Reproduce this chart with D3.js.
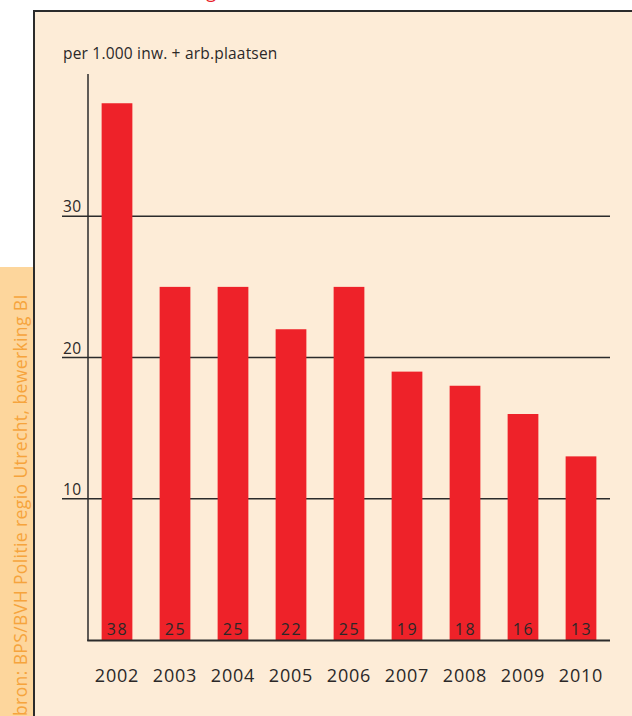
<!DOCTYPE html>
<html>
<head>
<meta charset="utf-8">
<script src="https://cdn.jsdelivr.net/npm/d3@7"></script>
<style>
  html, body { margin: 0; padding: 0; background: #fff; }
  svg { display: block; font-family: "Open Sans", "Noto Sans", sans-serif; }
</style>
</head>
<body>
<svg id="chart" width="632" height="716"></svg>
<script>
const years = ["2002", "2003", "2004", "2005", "2006", "2007", "2008", "2009", "2010"];
const values = [38, 25, 25, 22, 25, 19, 18, 16, 13];
const yTicks = [10, 20, 30];
const unitLabel = "per 1.000 inw. + arb.plaatsen";
const sourceLabel = "bron: BPS/BVH Politie regio Utrecht, bewerking BI";

const colors = {
    panel: "#fdecd7",
    border: "#2b2b2b",
    strip: "#fdd69c",
    source: "#f6a43c",
    bar: "#ee2229",
    ink: "#2b2828"
};

const svg = d3.select("#chart");

// sidebar strip with the source line
svg.append("rect")
    .attr("x", 0).attr("y", 267)
    .attr("width", 33).attr("height", 460)
    .attr("fill", colors.strip);

svg.append("text")
    .attr("transform", "translate(26.5, 716) rotate(-90)")
    .attr("fill", colors.source)
    .attr("font-size", 17.5)
    .attr("letter-spacing", 0.4)
    .text(sourceLabel);

// title above the panel, only the descender shows
svg.append("text")
    .attr("x", 216).attr("y", -2)
    .attr("text-anchor", "end")
    .attr("fill", "#e8202a")
    .attr("font-size", 18)
    .text("Ontwikkeling");

// panel
svg.append("rect")
    .attr("x", 34).attr("y", 11)
    .attr("width", 620).attr("height", 720)
    .attr("fill", colors.panel)
    .attr("stroke", colors.border)
    .attr("stroke-width", 2);

const scaleX = d3.scaleBand()
    .domain(years)
    .range([88, 610])
    .paddingInner(0.47)
    .paddingOuter(0.235);

const scaleY = d3.scaleLinear()
    .domain([0, 40])
    .range([640, 75]);

svg.append("text")
    .attr("x", 63).attr("y", 59)
    .attr("fill", colors.ink)
    .attr("font-size", 15.5)
    .attr("letter-spacing", 0.2)
    .text(unitLabel);

// gridlines with labels sitting on top of them
const grid = svg.append("g").attr("class", "grid");
grid.selectAll("line")
    .data(yTicks)
    .join("line")
    .attr("x1", 62).attr("x2", 610)
    .attr("y1", d => scaleY(d)).attr("y2", d => scaleY(d))
    .attr("stroke", colors.border)
    .attr("stroke-width", 1.3);

grid.selectAll("text")
    .data(yTicks)
    .join("text")
    .attr("x", 63)
    .attr("y", d => scaleY(d) - 4)
    .attr("fill", colors.ink)
    .attr("font-size", 15.5)
    .attr("letter-spacing", 0.5)
    .text(d => d);

// bars
svg.append("g").selectAll("rect")
    .data(values)
    .join("rect")
    .attr("x", (d, i) => scaleX(years[i]))
    .attr("y", d => scaleY(d))
    .attr("width", scaleX.bandwidth())
    .attr("height", d => scaleY(0) - scaleY(d))
    .attr("fill", colors.bar);

// values inside the bar foot
svg.append("g").selectAll("text")
    .data(values)
    .join("text")
    .attr("x", (d, i) => scaleX(years[i]) + scaleX.bandwidth() / 2 + 0.5)
    .attr("y", 635)
    .attr("text-anchor", "middle")
    .attr("fill", colors.ink)
    .attr("font-size", 16)
    .attr("letter-spacing", 1.5)
    .text(d => d);

// axis lines
svg.append("line")
    .attr("x1", 88).attr("x2", 88)
    .attr("y1", 74).attr("y2", 641)
    .attr("stroke", colors.border)
    .attr("stroke-width", 1.5);

svg.append("line")
    .attr("x1", 87.25).attr("x2", 610)
    .attr("y1", 640.5).attr("y2", 640.5)
    .attr("stroke", colors.border)
    .attr("stroke-width", 1.8);

// year labels
const xAxis = d3.axisBottom(scaleX).tickSize(0).tickPadding(0);
const xg = svg.append("g")
    .attr("transform", "translate(0, 682)")
    .call(xAxis);
xg.select(".domain").remove();
xg.selectAll("text")
    .attr("dy", 0)
    .attr("fill", colors.ink)
    .attr("font-size", 18)
    .attr("font-family", "\"Open Sans\", \"Noto Sans\", sans-serif")
    .attr("letter-spacing", 0.8);
</script>
</body>
</html>
